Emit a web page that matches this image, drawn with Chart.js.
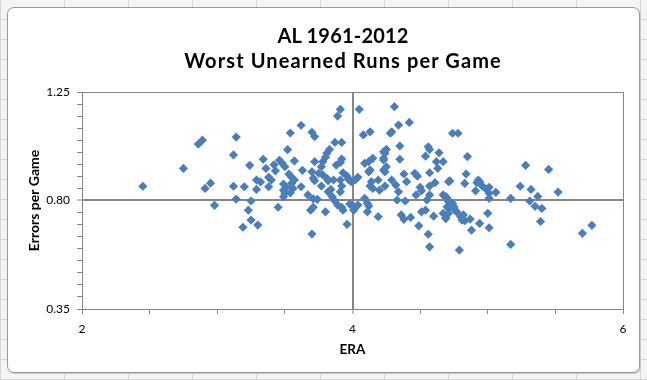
<!DOCTYPE html>
<html>
<head>
<meta charset="utf-8">
<script src="https://cdn.jsdelivr.net/npm/chart.js@4.4.1/dist/chart.umd.min.js"></script>
<style>
  html, body { margin: 0; padding: 0; }
  body {
    width: 647px; height: 380px; overflow: hidden; position: relative;
    background-color: #f4f4f4;
    background-image: linear-gradient(90deg, #d6d6d6 1px, transparent 1px),
                      linear-gradient(0deg, #d6d6d6 1px, transparent 1px);
    background-size: 64px 20px;
  }
  .frame {
    position: absolute; left: 7px; top: 7px; width: 631px; height: 364px;
    background: #fff; border: 1px solid #9a9a9a; border-radius: 7px;
    box-shadow: 1px 1px 0 #c8c8c8;
  }
  #chart { position: absolute; left: 0; top: 0; }
  .title {
    position: absolute; left: 0; top: 22.6px; width: 686px;
    text-align: center; font-family: Lato, "Open Sans", sans-serif;
    font-weight: bold; font-size: 20px; line-height: 25px; color: #000;
  }
  .t1 { letter-spacing: 0.2px; }
  .t2 { letter-spacing: 1.1px; }
</style>
</head>
<body>
<div class="frame"></div>
<canvas id="chart" width="647" height="380"></canvas>
<div class="title"><span class="t1">AL 1961-2012</span><br><span class="t2">Worst Unearned Runs per Game</span></div>

<script>
// values
const era = [
  2.45, 2.75, 2.86, 2.89, 2.91, 2.95, 2.98, 3.14, 3.12, 3.12, 3.14,
  3.62, 3.54, 3.70, 3.72, 3.52, 3.34, 3.24, 3.36, 3.42, 3.46, 3.48, 3.50, 3.57, 3.43, 3.63, 3.72,
  3.53, 3.55, 3.57, 3.38, 3.40, 3.29, 3.32, 3.20, 3.29, 3.38, 3.49, 3.51, 3.49, 3.50, 3.49,
  3.55, 3.56, 3.54, 3.62, 3.70, 3.71, 3.72, 3.67, 3.71, 3.25, 3.45, 3.23, 3.69, 3.71, 3.25, 3.30, 3.19, 3.70,
  3.91, 3.89, 4.05, 4.08, 4.13, 3.87, 3.92, 3.83, 3.81, 3.80, 3.78, 3.77, 3.92, 3.91, 3.88,
  3.75, 3.78, 3.81, 3.82, 3.86, 3.93, 3.96, 3.97, 3.99, 4.02, 4.04, 3.91, 3.92, 3.77, 3.84, 3.82, 3.91,
  3.85, 3.87, 3.89, 3.92, 3.93, 3.74, 3.80, 3.98, 4.00, 4.02, 4.04, 4.01, 3.96, 4.09, 4.11, 4.12, 4.11, 4.19,
  4.14, 4.13, 4.15, 4.19, 4.09, 4.12, 4.15, 4.13, 4.12, 4.23, 4.23, 4.23, 4.20,
  4.31, 4.34, 4.42, 4.29, 4.28, 4.25, 4.24, 4.23, 4.25, 4.24, 4.35, 4.35, 4.56, 4.57, 4.64, 4.54,
  4.62, 4.67, 4.63, 4.57, 4.38, 4.40, 4.46, 4.48, 4.29, 4.32, 4.24, 4.34, 4.50, 4.51, 4.57, 4.61,
  4.57, 4.47, 4.67, 4.69, 4.71, 4.33, 4.39, 4.55, 4.36, 4.38, 4.43, 4.51, 4.54, 4.60, 4.67, 4.69, 4.71,
  4.49, 4.56, 4.57,
  4.74, 4.78, 4.85, 4.72, 4.84, 4.83, 4.92, 4.93, 4.94, 4.96, 4.91, 4.99, 5.01, 5.01, 5.06, 5.01, 5.17,
  4.70, 4.71, 4.74, 4.75, 4.76, 4.77, 4.70, 4.71, 4.69, 4.80, 4.82, 4.81, 4.83, 4.87, 5.00, 4.94, 5.01,
  4.88, 4.79, 5.17,
  5.28, 5.45, 5.24, 5.32, 5.37, 5.52, 5.31, 5.35, 5.40, 5.39, 5.70, 5.77
];
const errorsPerGame = [
  0.859, 0.933, 1.034, 1.050, 0.850, 0.872, 0.780, 1.063, 0.989, 0.859, 0.806,
  1.112, 1.080, 1.083, 1.065, 1.011, 0.971, 0.946, 0.933, 0.948, 0.967, 0.954, 0.940, 0.964, 0.923, 0.925, 0.961,
  0.910, 0.896, 0.885, 0.896, 0.885, 0.885, 0.877, 0.857, 0.846, 0.857, 0.868, 0.855, 0.843, 0.830, 0.816,
  0.871, 0.850, 0.832, 0.857, 0.919, 0.892, 0.882, 0.823, 0.807, 0.798, 0.772, 0.760, 0.760, 0.772, 0.719, 0.698, 0.689, 0.661,
  1.178, 1.150, 1.178, 1.072, 1.085, 1.041, 1.041, 1.012, 0.996, 0.979, 0.961, 0.940, 0.972, 0.958, 0.947,
  0.913, 0.906, 0.892, 0.882, 0.885, 0.915, 0.901, 0.888, 0.878, 0.885, 0.896, 0.885, 0.860, 0.860, 0.846, 0.836, 0.836,
  0.816, 0.798, 0.781, 0.772, 0.760, 0.805, 0.753, 0.785, 0.777, 0.774, 0.781, 0.760, 0.701, 0.809, 0.788, 0.777, 0.753, 0.733,
  0.878, 0.860, 0.850, 0.885, 0.954, 0.961, 0.975, 0.926, 0.919, 0.968, 0.926, 1.002, 0.843,
  1.189, 1.113, 1.124, 1.085, 1.079, 1.012, 0.996, 0.975, 0.940, 0.919, 1.026, 0.971, 1.023, 1.012, 0.998, 0.984,
  0.961, 0.961, 0.933, 0.915, 0.910, 0.878, 0.913, 0.901, 0.885, 0.864, 0.860, 0.836, 0.855, 0.840, 0.860, 0.874,
  0.823, 0.823, 0.823, 0.816, 0.878, 0.802, 0.798, 0.802, 0.740, 0.722, 0.730, 0.753, 0.760, 0.735, 0.747, 0.726, 0.767,
  0.695, 0.660, 0.608,
  1.079, 1.079, 0.982, 0.881, 0.910, 0.871, 0.874, 0.885, 0.878, 0.860, 0.840, 0.846, 0.855, 0.830, 0.834, 0.809, 0.809,
  0.809, 0.795, 0.788, 0.774, 0.760, 0.753, 0.774, 0.747, 0.726, 0.733, 0.740, 0.719, 0.716, 0.723, 0.747, 0.705, 0.687,
  0.677, 0.594, 0.618,
  0.946, 0.929, 0.859, 0.846, 0.817, 0.835, 0.798, 0.776, 0.767, 0.713, 0.664, 0.697
];
const xTickLabels = ['2', '4', '6'];
const yTickLabels = ['0.35', '0.80', '1.25'];

const points = era.map((x, i) => ({ x: x, y: errorsPerGame[i] }));

const axisGray = '#868686';
const font = 'Lato, "Open Sans", sans-serif';

function xMajor(v) { return xTickLabels.includes(String(v)); }
function yMajor(v) { return yTickLabels.includes(v.toFixed(2)); }

const ctx = document.getElementById('chart').getContext('2d');
const chart = new Chart(ctx, {
  type: 'scatter',
  data: {
    datasets: [{
      data: points,
      pointStyle: 'rectRot',
      pointRadius: 4.6,
      pointHoverRadius: 4.6,
      backgroundColor: '#4a7ebb',
      borderColor: '#4a7ebb',
      borderWidth: 0
    }]
  },
  options: {
    responsive: false,
    animation: false,
    devicePixelRatio: 1,
    layout: { padding: { top: 92, right: 24, bottom: 0, left: 0 } },
    plugins: { legend: { display: false }, tooltip: { enabled: false } },
    scales: {
      x: {
        type: 'linear', min: 2, max: 6,
        afterFit: s => { s.height = 71; },
        ticks: {
          stepSize: 0.5, autoSkip: false, maxRotation: 0, padding: 8,
          color: '#000', font: { family: font, size: 12 },
          callback: v => xMajor(v) ? String(v) : ''
        },
        grid: {
          color: c => xMajor(c.tick.value) ? axisGray : 'rgba(0,0,0,0)',
          lineWidth: c => (c.tick.value === 4) ? 2 : 1,
          tickColor: axisGray, tickWidth: 1, tickLength: 5
        },
        border: { color: axisGray, width: 1 },
        title: {
          display: true, text: 'ERA', color: '#000',
          font: { family: font, size: 13.5, weight: 'bold' },
          padding: { top: 0, bottom: 22 }
        }
      },
      y: {
        type: 'linear', min: 0.35, max: 1.25,
        afterFit: s => { s.width = 82; },
        ticks: {
          stepSize: 0.05, autoSkip: false, padding: 7,
          color: '#000', font: { family: font, size: 12 },
          callback: v => yMajor(v) ? v.toFixed(2) : ''
        },
        grid: {
          color: c => yMajor(c.tick.value) ? axisGray : 'rgba(0,0,0,0)',
          lineWidth: c => (c.tick.value.toFixed(2) === '0.80') ? 2 : 1,
          tickColor: axisGray, tickWidth: 1, tickLength: 5
        },
        border: { color: axisGray, width: 1 },
        title: {
          display: true, text: 'Errors per Game', color: '#000',
          font: { family: font, size: 14, weight: 'bold' },
          padding: { top: 26, bottom: 0 }
        }
      }
    }
  }
});
</script>
</body>
</html>
